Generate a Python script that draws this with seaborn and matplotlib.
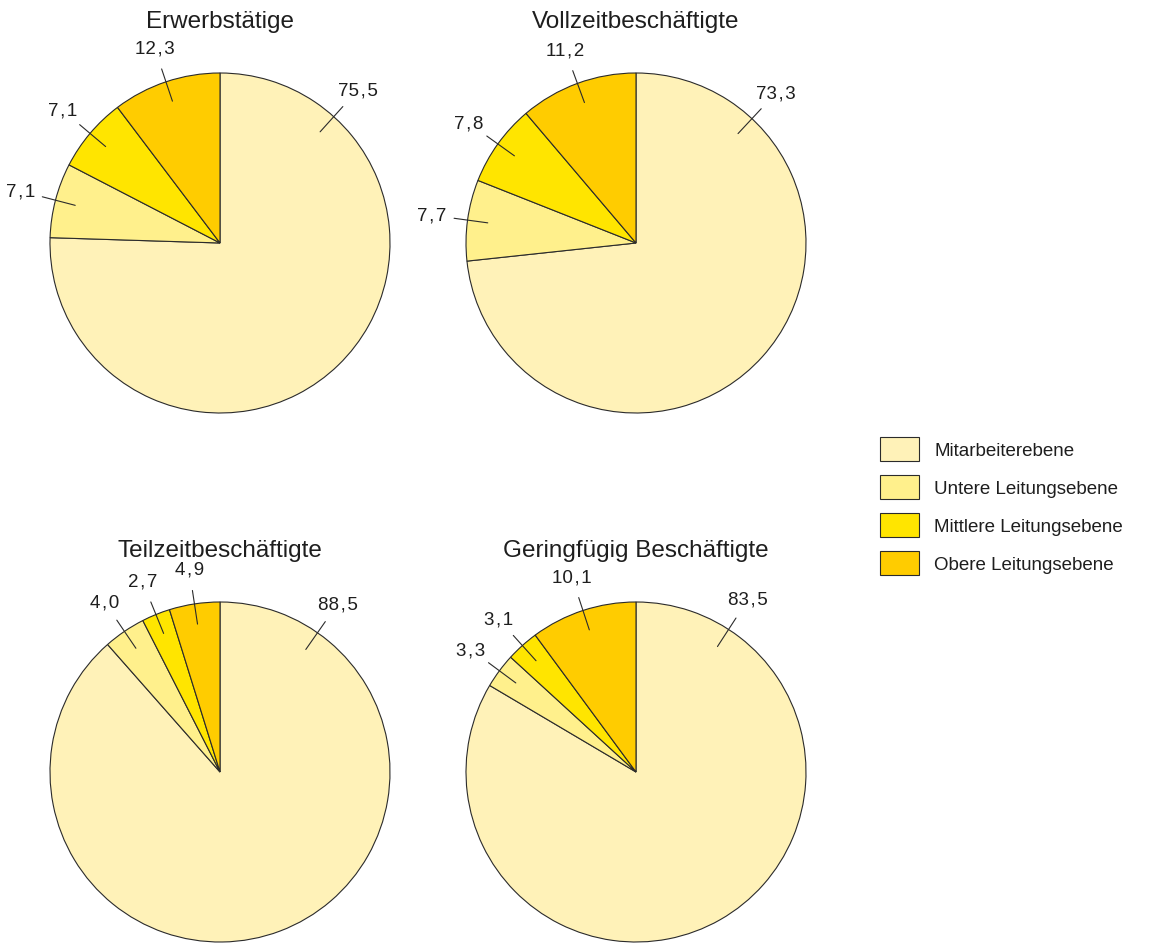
import matplotlib
matplotlib.use("Agg")
import matplotlib.pyplot as plt
from matplotlib.patches import Patch
import numpy as np
import seaborn as sns

# Anteile nach Leitungsebene (in %)
levels = ["Mitarbeiterebene", "Untere Leitungsebene", "Mittlere Leitungsebene", "Obere Leitungsebene"]
titles = ["Erwerbstätige", "Vollzeitbeschäftigte", "Teilzeitbeschäftigte", "Geringfügig Beschäftigte"]
erwerbstaetige = [75.5, 7.1, 7.1, 12.3]
vollzeit = [73.3, 7.7, 7.8, 11.2]
teilzeit = [88.5, 4.0, 2.7, 4.9]
geringfuegig = [83.5, 3.3, 3.1, 10.1]
series = [erwerbstaetige, vollzeit, teilzeit, geringfuegig]

sns.set_theme(style="white")
plt.rcParams["font.family"] = ["Liberation Sans", "DejaVu Sans"]

colors = sns.color_palette(["#FFF2B8", "#FFF08C", "#FFE500", "#FFCC00"])
edge = "#2b2b2b"
txt = "#1e1e1e"

W, H = 1162, 945
fig = plt.figure(figsize=(W / 100, H / 100), dpi=100)

R_PX = 170          # pie radius in pixels
L = 1.3             # half-extent of each axes in pie-radius units
centers = [(220, 244), (636, 244), (220, 773), (636, 773)]
big_label_angle = [48, 47, 55, 57]   # direction of the label of the largest slice


def fmt(v):
    return f"{v:.1f}".replace(".", "\u200a,\u200a")


for k, (vals, title, (cx, cy)) in enumerate(zip(series, titles, centers)):
    side = 2 * L * R_PX
    ax = fig.add_axes([(cx - side / 2) / W, (H - cy - side / 2) / H, side / W, side / H])
    # slices are shares of 100 %; the last one closes the circle at 12 o'clock
    cum = np.minimum(np.cumsum([0.0] + list(vals)) / 100.0, 1.0)
    fracs = np.diff(cum)
    wedges, _ = ax.pie(fracs, colors=colors, startangle=90, counterclock=False,
                       normalize=False, radius=1.0,
                       wedgeprops=dict(edgecolor=edge, linewidth=0.8))
    ax.set_xlim(-L, L)
    ax.set_ylim(-L, L)
    ax.set_aspect("equal")
    ax.axis("off")

    for i, (w, v) in enumerate(zip(wedges, vals)):
        ang = big_label_angle[k] if i == 0 else (w.theta1 + w.theta2) / 2
        a = np.deg2rad(ang)
        ux, uy = np.cos(a), np.sin(a)
        ax.plot([0.88 * ux, 1.08 * ux], [0.88 * uy, 1.08 * uy], color=edge, lw=0.8,
                clip_on=False)
        ax.text(1.21 * ux, 1.21 * uy, fmt(v), ha="center", va="center", fontsize=13.5,
                color=txt, clip_on=False)

    ax.text(0, 1.305, title, ha="center", va="center", fontsize=17.5, color=txt,
            clip_on=False)

handles = [Patch(facecolor=c, edgecolor=edge, linewidth=0.8) for c in colors]
fig.legend(handles, levels, loc="upper left", bbox_to_anchor=(880 / W, 1 - 438 / H),
           frameon=False, fontsize=13.5, labelcolor=txt, handlelength=2.08,
           handleheight=1.63, labelspacing=0.72, handletextpad=0.8,
           borderaxespad=0, borderpad=0)

fig.savefig("out.png", dpi=100)
